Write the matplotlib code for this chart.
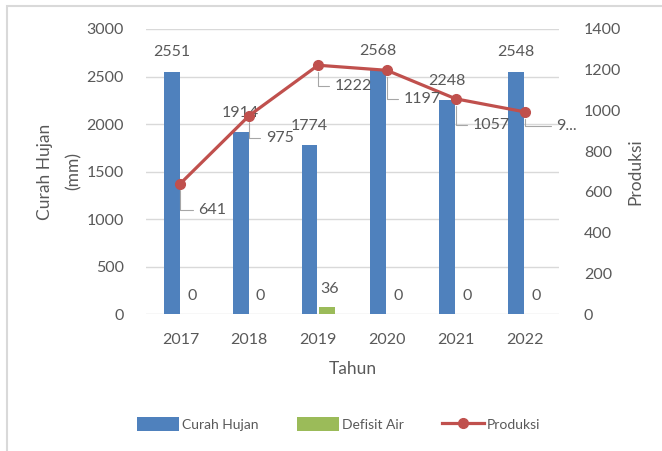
import matplotlib.pyplot as plt
from matplotlib.patches import Rectangle
import numpy as np

plt.rcParams["font.family"] = ["Lato", "DejaVu Sans"]

# data
tahun = ["2017", "2018", "2019", "2020", "2021", "2022"]
curah_hujan = [2551, 1914, 1774, 2568, 2248, 2548]
defisit_air = [0, 0, 36, 0, 0, 0]
produksi = [641, 975, 1222, 1197, 1057, 993]
produksi_label = ["641", "975", "1222", "1197", "1057", "9..."]

BLUE = "#4F81BD"
GREEN = "#9BBB59"
RED = "#C0504D"
TXT = "#595959"
GRID = "#D9D9D9"

fig = plt.figure(figsize=(6.62, 4.51), dpi=100)
ax = fig.add_axes([146 / 662, 1 - 314 / 451, 413 / 662, 285 / 451])
ax2 = ax.twinx()

x = np.arange(len(tahun))
w = 0.23
b1 = ax.bar(x - 0.125, curah_hujan, w, color=BLUE, label="Curah Hujan", zorder=2)
b2 = ax2.bar(x + 0.125, defisit_air, w, color=GREEN, label="Defisit Air", zorder=2)
ln, = ax2.plot(x, produksi, color=RED, lw=2.3, marker="o", ms=7,
               label="Produksi", zorder=4)

ax.set_xlim(-0.5, len(tahun) - 0.5)
ax.set_ylim(0, 3000)
ax.set_yticks(range(0, 3001, 500))
ax2.set_ylim(0, 1400)
ax2.set_yticks(range(0, 1401, 200))
ax.set_xticks(x, tahun)

ax.grid(axis="y", color=GRID, lw=1, zorder=0)
ax.set_axisbelow(True)
for a in (ax, ax2):
    for s in a.spines.values():
        s.set_visible(False)
    a.tick_params(length=0, labelsize=11.5, colors=TXT)
ax.tick_params(axis="y", pad=16)
ax2.tick_params(axis="y", pad=18)
ax.tick_params(axis="x", pad=14)

ax.set_xlabel("Tahun", fontsize=12.5, color=TXT, labelpad=10)
ax.set_ylabel("Curah Hujan\n(mm)", fontsize=12.5, color=TXT, labelpad=3,
              linespacing=2.0)
ax2.set_ylabel("Produksi", fontsize=12.5, color=TXT, labelpad=4)

# bar labels
for xi, v in zip(x, curah_hujan):
    ax.annotate(str(v), (xi - 0.125, v), xytext=(0, 14), textcoords="offset points",
                ha="center", va="center", fontsize=11.5, color=TXT)
for xi, v in zip(x, defisit_air):
    ax2.annotate(str(v), (xi + 0.125, v), xytext=(2, 13), textcoords="offset points",
                 ha="center", va="center", fontsize=11.5, color=TXT, zorder=5)

# line labels with leader lines (offsets in points)
offs = [(13, -19), (12, -16), (12, -15), (12, -21), (12, -19), (23, -10)]
for xi, v, lab, (dx, dy) in zip(x, produksi, produksi_label, offs):
    ax2.annotate(lab, (xi, v), xytext=(dx, dy), textcoords="offset points",
                 ha="left", va="center", fontsize=11.5, color=TXT, zorder=6,
                 arrowprops=dict(arrowstyle="-", color="#A6A6A6", lw=0.8,
                                 shrinkA=2, shrinkB=5, relpos=(0, 0.5),
                                 connectionstyle="angle,angleA=0,angleB=90,rad=0"))

fig.legend([b1, b2, ln], ["Curah Hujan", "Defisit Air", "Produksi"],
           loc="center", bbox_to_anchor=(0.512, 0.06), ncol=3, frameon=False,
           fontsize=10, labelcolor=TXT, handlelength=3.0, handleheight=1.1,
           handletextpad=0.2, columnspacing=2.8)

# outer chart border (only left/top visible in frame)
fig.patches.append(Rectangle((7 / 662, -0.1), 1.2, 1 - 6 / 451 + 0.1,
                             transform=fig.transFigure, fill=False,
                             edgecolor=GRID, lw=1.5))

fig.savefig("out.png", dpi=100)
